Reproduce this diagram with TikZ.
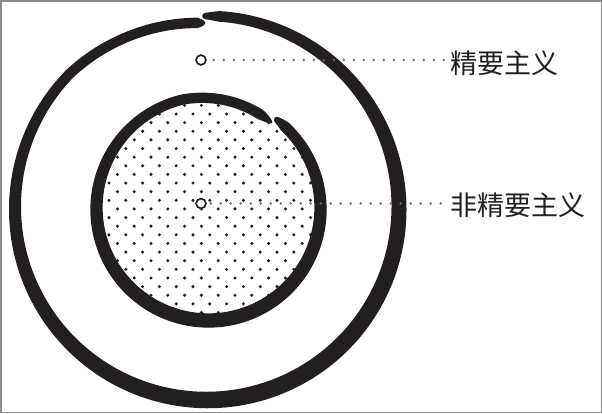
\documentclass[tikz,border=0pt]{standalone}
\usepackage{fontspec}
\newfontfamily\cjk{Noto Sans CJK SC}
\definecolor{ink}{HTML}{231F20}
\definecolor{dotgray}{HTML}{6E6E6E}
\definecolor{framegray}{HTML}{8C8C8C}
\begin{document}
\begin{tikzpicture}[x=1pt,y=-1pt,
  declare function={
    oa(\t)=90.5-360*\t;
    od(\t)=360*(1-\t);
    oR(\t)=192-7*max(0,1-od(\t)/45);
    ow(\t)=(13.5-3*sin(oa(\t))+1.5*cos(oa(\t)))*sqrt(min(1,od(\t)/2.5))*(0.6+0.4*min(1,360*\t/4));
    ia(\t)=52.3-358.9*\t;
    id(\t)=358.9*(1-\t);
    iR(\t)=112-5.5*max(0,1-id(\t)/50);
    iw(\t)=(12.3-2*sin(ia(\t)))*sqrt(min(1,id(\t)/8))*(0.6+0.4*min(1,358.9*\t/5));
  },
  smallc/.style={circle,draw=ink,fill=white,line width=1.7pt,minimum size=9.8pt,inner sep=0pt},
  lab/.style={anchor=west,inner sep=0pt,font=\cjk\fontsize{27}{30}\selectfont,text=ink},
  dotline/.style={draw=dotgray,line width=2.8pt,line cap=round,dash pattern=on 0pt off 10pt},
  patdot/.style={fill=ink}
]
\useasboundingbox (0,0) rectangle (602,413);
\fill[white] (0,0) rectangle (602,413);
% dot pattern inside inner disk
\begin{scope}
  \clip (208.5,208.5) circle[radius=108];
  \foreach \j in {-2,...,25}{
    \pgfmathsetmacro{\yy}{114+8.63*\j}
    \pgfmathsetmacro{\off}{mod(\j+100,2)*8.4}
    \foreach \i in {-7,...,9}{
      \fill[patdot] ({193+16.8*\i+\off},{\yy}) circle[radius=1.7];
    }
  }
\end{scope}
% outer brush ring
\fill[ink] plot[domain=0:1,samples=720,variable=\x]
  ({207+(oR(\x)+ow(\x)/2)*cos(oa(\x))},{208-(oR(\x)+ow(\x)/2)*sin(oa(\x))})
  -- plot[domain=1:0,samples=720,variable=\x]
  ({207+(oR(\x)-ow(\x)/2)*cos(oa(\x))},{208-(oR(\x)-ow(\x)/2)*sin(oa(\x))}) -- cycle;
\fill[ink] ({207+oR(0)*cos(oa(0))},{208-oR(0)*sin(oa(0))}) circle[radius=3.1];
% inner brush ring
\fill[ink] plot[domain=0:1,samples=600,variable=\x]
  ({208.5+(iR(\x)+iw(\x)/2)*cos(ia(\x))},{208.5-(iR(\x)+iw(\x)/2)*sin(ia(\x))})
  -- plot[domain=1:0,samples=600,variable=\x]
  ({208.5+(iR(\x)-iw(\x)/2)*cos(ia(\x))},{208.5-(iR(\x)-iw(\x)/2)*sin(ia(\x))}) -- cycle;
\fill[ink] ({208.5+iR(0)*cos(ia(0))},{208.5-iR(0)*sin(ia(0))}) circle[radius=3.2];
% markers and labels
\node[smallc] (p1) at (201,60) {};
\node[smallc] (p2) at (201,203.5) {};
\node[lab] (l1) at (450,63) {精要主义};
\node[lab] (l2) at (450,205) {非精要主义};
\draw[dotline,shorten <=7pt,shorten >=5pt] (p1.east) -- (p1.east -| l1.west);
\draw[dotline,shorten <=4pt,shorten >=5pt] (p2.east) -- (p2.east -| l2.west);
% frame
\draw[framegray,line width=1.5pt] (0.75,0.75) rectangle (601.25,412.25);
\end{tikzpicture}
\end{document}
